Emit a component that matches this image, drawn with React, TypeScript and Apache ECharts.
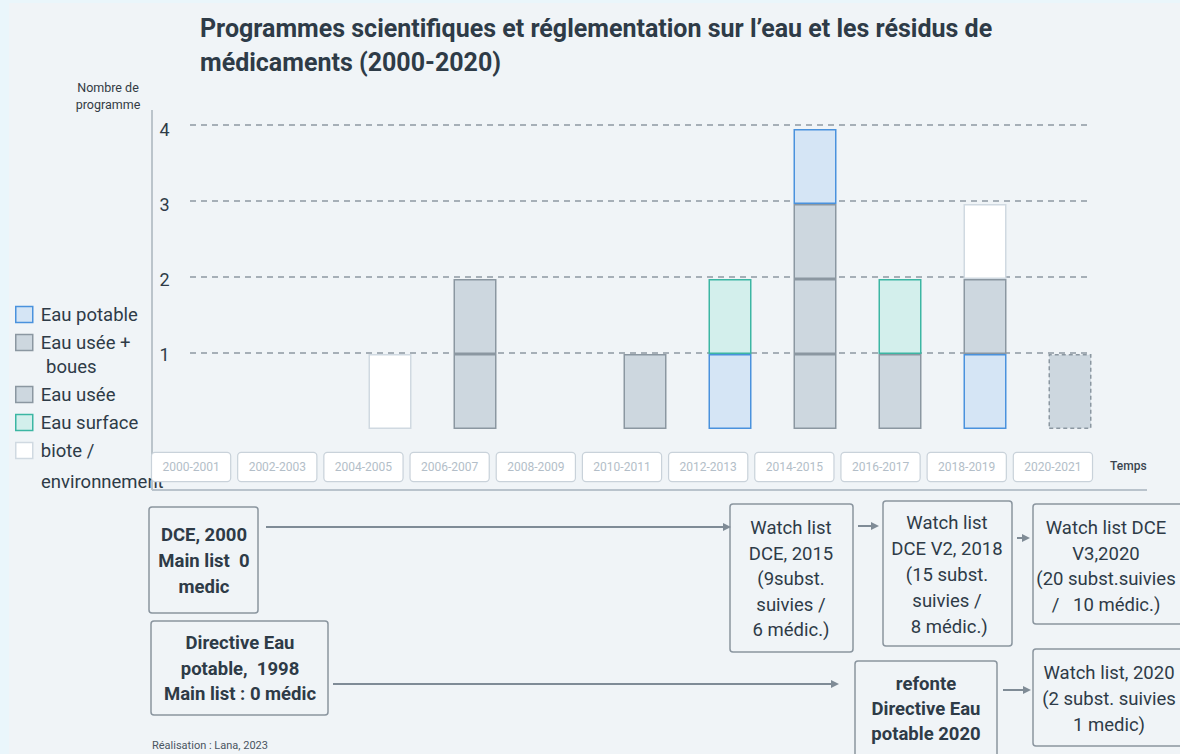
import React, { useEffect, useRef } from 'react';
import * as echarts from 'echarts';

// ---------- data ----------
const categories = [
  '2000-2001', '2002-2003', '2004-2005', '2006-2007', '2008-2009', '2010-2011',
  '2012-2013', '2014-2015', '2016-2017', '2018-2019', '2020-2021',
];

// type of programme at each stack level (bottom -> top), one entry per category
const niveau1 = ['', '', 'biote', 'usee', '', 'usee', 'potable', 'usee', 'usee', 'potable', 'boues'];
const niveau2 = ['', '', '', 'usee', '', '', 'surface', 'usee', 'surface', 'usee', ''];
const niveau3 = ['', '', '', '', '', '', '', 'usee', '', 'biote', ''];
const niveau4 = ['', '', '', '', '', '', '', 'potable', '', '', ''];

const legendGroupA = ['potable', 'boues'];
const legendGroupB = ['usee', 'surface', 'biote'];
const legendOrder = [...legendGroupA, ...legendGroupB];
const typeLabels: Record<string, string> = {
  potable: 'Eau potable',
  boues: 'Eau usée +\n boues',
  usee: 'Eau usée',
  surface: 'Eau surface',
  biote: 'biote /\nenvironnement',
};

const titleText =
  'Programmes scientifiques et réglementation sur l’eau et les résidus de\nmédicaments (2000-2020)';
const yAxisName = 'Nombre de\nprogramme';
const xAxisName = 'Temps';
const creditText = 'Réalisation : Lana, 2023';

const boxTexts = [
  'DCE, 2000\nMain list  0\nmedic',
  'Watch list\nDCE, 2015\n(9subst.\nsuivies /\n6 médic.)',
  'Watch list\nDCE V2, 2018\n(15 subst.\nsuivies /\n 8 médic.)',
  'Watch list DCE\nV3,2020\n(20 subst.suivies\n/   10 médic.)',
  'Directive Eau\npotable,  1998\nMain list : 0 médic',
  'refonte\nDirective Eau\npotable 2020',
  'Watch list, 2020\n(2 subst. suivies\n1 medic)',
];

// ---------- styles ----------
const typeStyles: Record<string, any> = {
  potable: { color: '#d5e5f5', borderColor: '#4a92dd', borderWidth: 1.5 },
  boues: { color: '#cdd7df', borderColor: '#8b97a1', borderWidth: 1.5, borderType: [4, 3] },
  usee: { color: '#cdd7df', borderColor: '#8b97a1', borderWidth: 1.5 },
  surface: { color: '#d3efec', borderColor: '#3cb6a3', borderWidth: 1.5 },
  biote: { color: '#ffffff', borderColor: '#d0d9e1', borderWidth: 1.5 },
};

// chart canvas sits at page (OX, OY)
const OX = 9;
const OY = 3;
const CW = 1180 - OX;
const CH = 754 - OY;
const X = (x: number) => x - OX;
const Y = (y: number) => y - OY;
const TXT = '#2e3b47';
const LINE = '#8a959f';
const FONT = 'Roboto';

// layout of timeline boxes (page coordinates)
const boxLayout = [
  { x: 149, y: 507, w: 109, h: 106, cx: 204, cy: 561, bold: true, lh: 26 },
  { x: 730, y: 504, w: 123, h: 148, cx: 791, cy: 579, bold: false, lh: 25.5 },
  { x: 883, y: 501, w: 129, h: 145, cx: 947, cy: 574.5, bold: false, lh: 26 },
  { x: 1033, y: 504, w: 170, h: 120, cx: 1106, cy: 566.5, bold: false, lh: 25.7 },
  { x: 151, y: 621, w: 177, h: 94, cx: 240, cy: 668.5, bold: true, lh: 25.5 },
  { x: 855, y: 661, w: 142, h: 100, cx: 926, cy: 709, bold: true, lh: 25 },
  { x: 1033, y: 649, w: 170, h: 97, cx: 1109, cy: 699, bold: false, lh: 26 },
];

const arrowLayout = [
  { x1: 266, x2: 731, y: 527 },
  { x1: 858, x2: 879, y: 526 },
  { x1: 1017, x2: 1030, y: 538 },
  { x1: 333, x2: 839, y: 684 },
  { x1: 1003, x2: 1031, y: 690 },
];

function buildSeries() {
  const levels = [niveau1, niveau2, niveau3, niveau4];
  const out: any[] = [];
  levels.forEach((lvl) => {
    legendOrder.forEach((t) => {
      if (!lvl.includes(t)) return;
      out.push({
        type: 'bar',
        name: typeLabels[t],
        stack: 'programmes',
        xAxisIndex: 0,
        yAxisIndex: 0,
        barWidth: 43,
        itemStyle: typeStyles[t],
        emphasis: { disabled: true },
        data: lvl.map((v) => (v === t ? 1 : '-')),
      });
    });
  });
  return out;
}

function legendBlock(names: string[], topPage: number) {
  return {
    orient: 'vertical',
    left: X(15), top: Y(topPage), padding: 0,
    itemWidth: 17, itemHeight: 16, itemGap: 2,
    icon: 'rect',
    selectedMode: false,
    data: names.map((t) => typeLabels[t]),
    formatter: (name: string) => name.split('\n')[0],
    itemStyle: { borderWidth: 1.5 },
    textStyle: { fontSize: 18.5, color: TXT, lineHeight: 26, padding: [0, 0, 0, 3], fontFamily: FONT },
  };
}

function buildGraphic() {
  const g: any[] = [];
  // frame lines
  g.push({
    type: 'line', silent: true,
    shape: { x1: X(152), y1: Y(110), x2: X(152), y2: Y(490) },
    style: { stroke: '#aab4bd', lineWidth: 1.5 },
  });
  g.push({
    type: 'line', silent: true,
    shape: { x1: X(152), y1: Y(490), x2: X(1147), y2: Y(490) },
    style: { stroke: '#b9c3cc', lineWidth: 2 },
  });
  // second lines of the two-line legend labels
  [
    { t: 'boues', x: 46, y: 367 },
    { t: 'biote', x: 41, y: 482 },
  ].forEach((s) => {
    g.push({
      type: 'text', silent: true, z: 0,
      x: X(s.x), y: Y(s.y),
      style: {
        text: typeLabels[s.t].split('\n')[1].trim(),
        align: 'left', verticalAlign: 'middle',
        fontSize: 18.5, fontFamily: FONT, fill: TXT,
      },
    });
  });
  boxLayout.forEach((b, i) => {
    g.push({
      type: 'rect', silent: true,
      shape: { x: X(b.x), y: Y(b.y), width: b.w, height: b.h, r: 3 },
      style: { fill: 'transparent', stroke: LINE, lineWidth: 1.5 },
    });
    g.push({
      type: 'text', silent: true,
      x: X(b.cx), y: Y(b.cy),
      style: {
        text: boxTexts[i],
        align: 'center', verticalAlign: 'middle',
        fontSize: 18.5, fontFamily: FONT,
        fontWeight: b.bold ? 'bold' : 'normal',
        lineHeight: b.lh, fill: TXT,
      },
    });
  });
  arrowLayout.forEach((a) => {
    const tip = X(a.x2);
    const y = Y(a.y);
    g.push({
      type: 'line', silent: true,
      shape: { x1: X(a.x1), y1: y, x2: tip - 6, y2: y },
      style: { stroke: '#7f8b96', lineWidth: 2 },
    });
    g.push({
      type: 'polygon', silent: true,
      shape: { points: [[tip, y], [tip - 8, y - 4], [tip - 8, y + 4]] },
      style: { fill: '#7f8b96' },
    });
  });
  g.push({
    type: 'text', silent: true,
    x: X(152), y: Y(745),
    style: {
      text: creditText, align: 'left', verticalAlign: 'middle',
      fontSize: 11, fontFamily: FONT, fill: '#4a5561',
    },
  });
  return g;
}

export default function App() {
  const ref = useRef<HTMLDivElement>(null);

  useEffect(() => {
    document.body.style.margin = '0';
    document.body.style.background = '#eaf6fb';
    const chart = echarts.init(ref.current!, null, { renderer: 'svg' });
    const option: any = {
      animation: false,
      backgroundColor: '#f0f4f7',
      textStyle: { fontFamily: FONT },
      title: {
        text: titleText,
        left: X(200), top: Y(11), padding: 0,
        textStyle: { fontSize: 25, fontWeight: 'bold', lineHeight: 34, color: TXT, fontFamily: FONT },
      },
      legend: [legendBlock(legendGroupA, 301.5), legendBlock(legendGroupB, 381.5)],
      grid: [
        { left: X(177.5), width: 935, top: Y(129), bottom: 754 - 429, outerBoundsMode: 'none' },
        { left: X(148), width: 948, top: Y(125), bottom: 754 - 429, outerBoundsMode: 'none' },
        { left: X(190), width: 902, top: Y(125), bottom: 754 - 429, outerBoundsMode: 'none' },
      ],
      xAxis: [
        {
          gridIndex: 0, type: 'category', data: categories,
          axisLine: { show: false }, axisTick: { show: false }, axisLabel: { show: false },
        },
        {
          gridIndex: 1, type: 'category', data: categories, z: 6,
          axisLine: { show: false }, axisTick: { show: false },
          axisLabel: {
            interval: 0, margin: 24, fontSize: 12, color: '#b3bec8',
            backgroundColor: '#ffffff', borderColor: '#c9d2da', borderWidth: 1.2, borderRadius: 3,
            padding: [8, 0, 8, 0], width: 78, lineHeight: 12, align: 'center',
          },
          name: xAxisName, nameLocation: 'end', nameGap: 14,
          nameTextStyle: {
            fontSize: 12, fontWeight: 500, color: '#3a4550',
            align: 'left', verticalAlign: 'top', padding: [31, 0, 0, 0],
          },
        },
        { gridIndex: 2, type: 'value', show: false, min: 0, max: 1 },
      ],
      yAxis: [
        {
          gridIndex: 0, type: 'value', min: 0, max: 4, interval: 1,
          splitLine: { show: false }, axisLine: { show: false }, axisTick: { show: false },
          axisLabel: {
            fontSize: 18, color: TXT, margin: 8,
            formatter: (v: number) => (v === 0 ? '' : String(v)),
          },
          name: yAxisName, nameLocation: 'end', nameGap: 16,
          nameTextStyle: { fontSize: 12.5, color: '#333b44', lineHeight: 17, align: 'center', padding: [0, 139, 0, 0] },
        },
        { gridIndex: 1, type: 'value', show: false, min: 0, max: 4 },
        {
          gridIndex: 2, type: 'value', min: 0, max: 4, interval: 1,
          axisLine: { show: false }, axisTick: { show: false }, axisLabel: { show: false },
          splitLine: {
            show: true, showMinLine: false,
            lineStyle: { type: [6, 5], color: '#8d98a2', width: 1.5 },
          },
        },
      ],
      series: buildSeries(),
      graphic: buildGraphic(),
    };
    chart.setOption(option);
    return () => chart.dispose();
  }, []);

  return (
    <div style={{ width: 1180, height: 754, background: '#eaf6fb', position: 'relative', overflow: 'hidden' }}>
      <div
        ref={ref}
        style={{ position: 'absolute', left: OX, top: OY, width: CW, height: CH, background: '#f0f4f7' }}
      />
    </div>
  );
}
